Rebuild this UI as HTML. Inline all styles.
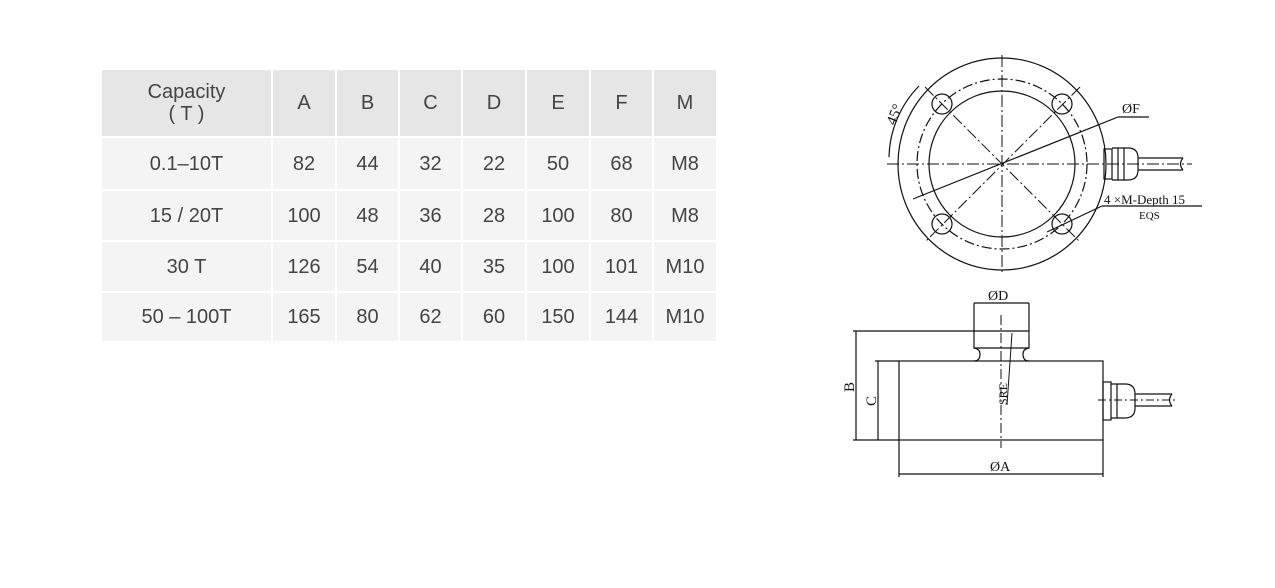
<!DOCTYPE html>
<html><head><meta charset="utf-8"><style>
html,body{margin:0;padding:0;background:#fff;width:1275px;height:588px;overflow:hidden;position:relative}
.c{position:absolute;display:flex;align-items:center;justify-content:center;font-family:"Liberation Sans",sans-serif;font-size:20px;color:#444;text-align:center;line-height:22px}
.h{background:#e6e6e6}
.b{background:#f4f4f4}
svg{position:absolute;left:0;top:0}
</style></head><body>
<div class="c h" style="left:102px;top:70px;width:169px;height:66px">Capacity<br>( T )</div>
<div class="c h" style="left:273px;top:70px;width:62px;height:66px">A</div>
<div class="c h" style="left:337px;top:70px;width:61px;height:66px">B</div>
<div class="c h" style="left:400px;top:70px;width:61px;height:66px">C</div>
<div class="c h" style="left:463px;top:70px;width:62px;height:66px">D</div>
<div class="c h" style="left:527px;top:70px;width:62px;height:66px">E</div>
<div class="c h" style="left:591px;top:70px;width:61px;height:66px">F</div>
<div class="c h" style="left:654px;top:70px;width:62px;height:66px">M</div>

<div class="c b" style="left:102px;top:138px;width:169px;height:51px">0.1–10T</div>
<div class="c b" style="left:273px;top:138px;width:62px;height:51px">82</div>
<div class="c b" style="left:337px;top:138px;width:61px;height:51px">44</div>
<div class="c b" style="left:400px;top:138px;width:61px;height:51px">32</div>
<div class="c b" style="left:463px;top:138px;width:62px;height:51px">22</div>
<div class="c b" style="left:527px;top:138px;width:62px;height:51px">50</div>
<div class="c b" style="left:591px;top:138px;width:61px;height:51px">68</div>
<div class="c b" style="left:654px;top:138px;width:62px;height:51px">M8</div>

<div class="c b" style="left:102px;top:191px;width:169px;height:49px">15 / 20T</div>
<div class="c b" style="left:273px;top:191px;width:62px;height:49px">100</div>
<div class="c b" style="left:337px;top:191px;width:61px;height:49px">48</div>
<div class="c b" style="left:400px;top:191px;width:61px;height:49px">36</div>
<div class="c b" style="left:463px;top:191px;width:62px;height:49px">28</div>
<div class="c b" style="left:527px;top:191px;width:62px;height:49px">100</div>
<div class="c b" style="left:591px;top:191px;width:61px;height:49px">80</div>
<div class="c b" style="left:654px;top:191px;width:62px;height:49px">M8</div>

<div class="c b" style="left:102px;top:242px;width:169px;height:49px">30 T</div>
<div class="c b" style="left:273px;top:242px;width:62px;height:49px">126</div>
<div class="c b" style="left:337px;top:242px;width:61px;height:49px">54</div>
<div class="c b" style="left:400px;top:242px;width:61px;height:49px">40</div>
<div class="c b" style="left:463px;top:242px;width:62px;height:49px">35</div>
<div class="c b" style="left:527px;top:242px;width:62px;height:49px">100</div>
<div class="c b" style="left:591px;top:242px;width:61px;height:49px">101</div>
<div class="c b" style="left:654px;top:242px;width:62px;height:49px">M10</div>

<div class="c b" style="left:102px;top:293px;width:169px;height:48px">50 – 100T</div>
<div class="c b" style="left:273px;top:293px;width:62px;height:48px">165</div>
<div class="c b" style="left:337px;top:293px;width:61px;height:48px">80</div>
<div class="c b" style="left:400px;top:293px;width:61px;height:48px">62</div>
<div class="c b" style="left:463px;top:293px;width:62px;height:48px">60</div>
<div class="c b" style="left:527px;top:293px;width:62px;height:48px">150</div>
<div class="c b" style="left:591px;top:293px;width:61px;height:48px">144</div>
<div class="c b" style="left:654px;top:293px;width:62px;height:48px">M10</div>

<svg width="1275" height="588" viewBox="0 0 1275 588" fill="none" stroke="#111" stroke-width="1.2" font-family="Liberation Serif, serif">
<!-- top view -->
<ellipse cx="1002" cy="164" rx="104" ry="106"/>
<circle cx="1002" cy="164" r="85" stroke-dasharray="10,3,2,3"/>
<circle cx="1002" cy="164" r="73"/>
<g stroke-dasharray="12,3,2,3" stroke-width="1">
<line x1="887" y1="164" x2="1192" y2="164"/>
<line x1="1002" y1="55" x2="1002" y2="275"/>
<line x1="925" y1="87" x2="1080" y2="242"/>
<line x1="1080" y1="87" x2="925" y2="242"/>
</g>
<circle cx="942" cy="104" r="10"/><circle cx="1062" cy="104" r="10"/>
<circle cx="942" cy="224" r="10"/><circle cx="1062" cy="224" r="10"/>
<line x1="913" y1="199" x2="1118" y2="117"/>
<line x1="1118" y1="117" x2="1149" y2="117"/>
<path d="M919 86 A105 105 0 0 0 889 157"/>
<text x="0" y="0" transform="translate(895,126) rotate(-68)" fill="#111" stroke="none" font-size="15">45°</text>
<text x="1122" y="113" fill="#111" stroke="none" font-size="14">ØF</text>
<line x1="1047" y1="232" x2="1102" y2="206"/>
<line x1="1102" y1="206" x2="1202" y2="206"/>
<text x="1104" y="204" fill="#111" stroke="none" font-size="13">4 ×M-Depth 15</text>
<text x="1139" y="219" fill="#111" stroke="none" font-size="11">EQS</text>
<!-- top connector -->
<rect x="1104" y="149" width="8" height="30"/>
<path d="M1112 148 H1128 Q1138 148 1138 158 V170 Q1138 180 1128 180 H1112"/>
<line x1="1118" y1="148" x2="1118" y2="180"/><line x1="1124" y1="148" x2="1124" y2="180"/>
<line x1="1138" y1="158" x2="1183" y2="158"/><line x1="1138" y1="170" x2="1183" y2="170"/>
<path d="M1183 158 Q1178 164 1183 170"/>
<!-- side view -->
<rect x="899" y="361" width="204" height="79"/>
<path d="M974 303 V348 Q980 349 980 354 Q980 361 974 361 M1029 303 V348 Q1023 349 1023 354 Q1023 361 1029 361"/>
<line x1="974" y1="331" x2="1029" y2="331"/><line x1="974" y1="348" x2="1029" y2="348"/>
<line x1="974" y1="303" x2="1029" y2="303"/>
<text x="988" y="300" fill="#111" stroke="none" font-size="14">ØD</text>
<line x1="1001" y1="315" x2="1001" y2="448" stroke-dasharray="10,3,2,3" stroke-width="1"/>
<line x1="1012" y1="333" x2="1007" y2="405" stroke-width="1"/>
<text transform="translate(1007,405) rotate(-90)" fill="#111" stroke="none" font-size="12">SRE</text>
<line x1="853" y1="331" x2="974" y2="331"/>
<line x1="875" y1="361" x2="899" y2="361"/>
<line x1="853" y1="440" x2="899" y2="440"/>
<line x1="856" y1="331" x2="856" y2="440"/>
<line x1="878" y1="361" x2="878" y2="440"/>
<text transform="translate(854,392) rotate(-90)" fill="#111" stroke="none" font-size="15">B</text>
<text transform="translate(876,406) rotate(-90)" fill="#111" stroke="none" font-size="15">C</text>
<line x1="899" y1="440" x2="899" y2="477"/><line x1="1103" y1="440" x2="1103" y2="477"/>
<line x1="899" y1="474" x2="1103" y2="474"/>
<text x="990" y="471" fill="#111" stroke="none" font-size="14">ØA</text>
<!-- side connector -->
<rect x="1103" y="382" width="8" height="38"/>
<path d="M1111 384 H1125 Q1135 384 1135 394 V408 Q1135 418 1125 418 H1111"/>
<line x1="1117" y1="384" x2="1117" y2="418"/>
<line x1="1135" y1="394" x2="1172" y2="394"/><line x1="1135" y1="406" x2="1172" y2="406"/>
<path d="M1172 394 Q1167 400 1172 406"/>
<line x1="1098" y1="400" x2="1178" y2="400" stroke-dasharray="8,3,2,3" stroke-width="1"/>
</svg>
</body></html>
